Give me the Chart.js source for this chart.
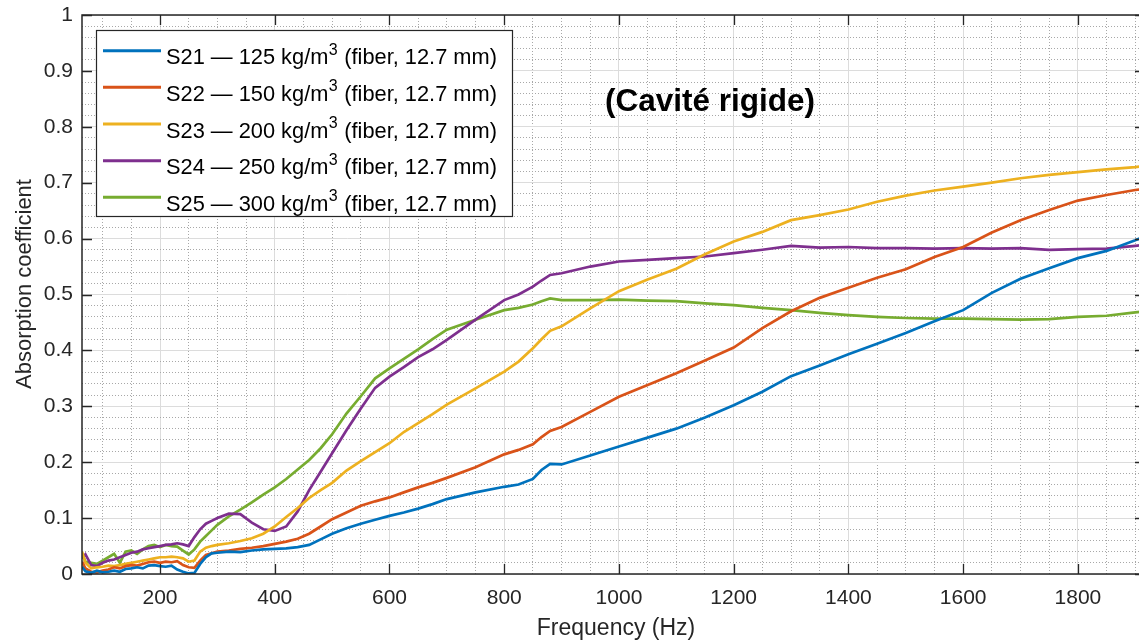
<!DOCTYPE html>
<html>
<head>
<meta charset="utf-8">
<script src="https://cdn.jsdelivr.net/npm/chart.js@4/dist/chart.umd.min.js"></script>
<style>
  html, body { margin: 0; padding: 0; background: #fff; overflow: hidden; }
  #wrap { position: relative; width: 1146px; height: 644px; }
</style>
</head>
<body>
<div id="wrap"><canvas id="absChart"></canvas></div>
<script>
// frequencies (Hz) shared by all five measurements
const freqHz = [64, 70, 80, 90, 100, 110, 120, 130, 140, 150, 160, 170, 180, 190, 200, 210, 220, 230, 240, 250,
  260, 270, 280, 290, 300, 320, 340, 360, 380, 400, 420, 440, 460, 480, 500, 525, 550, 575, 600, 625,
  650, 675, 700, 750, 800, 825, 850, 865, 880, 900, 950, 1000, 1050, 1100, 1150, 1200, 1250, 1300, 1350, 1400,
  1450, 1500, 1550, 1600, 1650, 1700, 1750, 1800, 1850, 1900, 1917];

const s21 = [0.013, 0.005, 0.002, 0.006, 0.003, 0.004, 0.006, 0.004, 0.009, 0.010, 0.012, 0.010, 0.015, 0.016, 0.014, 0.013, 0.015, 0.008, 0.004, 0.001,
  0.002, 0.018, 0.030, 0.037, 0.038, 0.040, 0.039, 0.042, 0.044, 0.045, 0.046, 0.048, 0.052, 0.062, 0.072, 0.082, 0.090, 0.097, 0.104, 0.110,
  0.117, 0.125, 0.134, 0.146, 0.156, 0.160, 0.170, 0.186, 0.197, 0.196, 0.212, 0.228, 0.244, 0.260, 0.280, 0.302, 0.326, 0.354, 0.373, 0.393,
  0.412, 0.431, 0.452, 0.472, 0.503, 0.528, 0.547, 0.565, 0.578, 0.597, 0.604];

const s22 = [0.022, 0.010, 0.004, 0.003, 0.006, 0.008, 0.012, 0.010, 0.014, 0.016, 0.015, 0.018, 0.021, 0.022, 0.020, 0.022, 0.021, 0.023, 0.016, 0.012,
  0.011, 0.024, 0.034, 0.037, 0.040, 0.042, 0.045, 0.047, 0.050, 0.054, 0.058, 0.063, 0.072, 0.085, 0.098, 0.110, 0.122, 0.130, 0.137, 0.146,
  0.155, 0.163, 0.172, 0.191, 0.214, 0.222, 0.232, 0.245, 0.256, 0.263, 0.290, 0.317, 0.338, 0.359, 0.382, 0.405, 0.440, 0.470, 0.494, 0.512,
  0.530, 0.545, 0.567, 0.585, 0.611, 0.633, 0.651, 0.668, 0.678, 0.687, 0.689];

const s23 = [0.040, 0.020, 0.010, 0.012, 0.013, 0.015, 0.014, 0.016, 0.018, 0.020, 0.022, 0.024, 0.026, 0.028, 0.030, 0.030, 0.031, 0.030, 0.028, 0.022,
  0.024, 0.040, 0.047, 0.050, 0.052, 0.055, 0.059, 0.064, 0.072, 0.085, 0.102, 0.118, 0.136, 0.150, 0.163, 0.185, 0.202, 0.218, 0.234, 0.254,
  0.270, 0.286, 0.303, 0.332, 0.362, 0.380, 0.404, 0.420, 0.435, 0.443, 0.475, 0.506, 0.527, 0.546, 0.572, 0.595, 0.612, 0.633, 0.642, 0.652,
  0.666, 0.677, 0.686, 0.693, 0.700, 0.708, 0.714, 0.719, 0.724, 0.728, 0.730];

const s24 = [0.028, 0.035, 0.016, 0.014, 0.020, 0.024, 0.026, 0.030, 0.034, 0.038, 0.040, 0.044, 0.046, 0.048, 0.050, 0.052, 0.053, 0.055, 0.053, 0.050,
  0.066, 0.080, 0.090, 0.095, 0.100, 0.108, 0.107, 0.092, 0.080, 0.077, 0.085, 0.112, 0.150, 0.183, 0.216, 0.257, 0.296, 0.333, 0.353, 0.370,
  0.388, 0.402, 0.419, 0.455, 0.490, 0.500, 0.514, 0.525, 0.535, 0.538, 0.550, 0.559, 0.562, 0.565, 0.568, 0.574, 0.580, 0.587, 0.584, 0.585,
  0.583, 0.583, 0.582, 0.583, 0.582, 0.583, 0.580, 0.581, 0.582, 0.587, 0.589];

const s25 = [0.037, 0.022, 0.020, 0.018, 0.024, 0.030, 0.036, 0.020, 0.040, 0.042, 0.036, 0.044, 0.050, 0.052, 0.048, 0.052, 0.050, 0.049, 0.042, 0.035,
  0.044, 0.058, 0.068, 0.078, 0.088, 0.103, 0.115, 0.128, 0.142, 0.155, 0.170, 0.187, 0.204, 0.225, 0.250, 0.287, 0.318, 0.350, 0.368, 0.385,
  0.402, 0.420, 0.437, 0.455, 0.472, 0.476, 0.482, 0.488, 0.493, 0.490, 0.490, 0.491, 0.489, 0.488, 0.484, 0.481, 0.476, 0.472, 0.467, 0.463,
  0.460, 0.458, 0.457, 0.457, 0.456, 0.455, 0.456, 0.460, 0.462, 0.468, 0.470];

const seriesLabels = [
  'S21 — 125 kg/m³ (fiber, 12.7 mm)',
  'S22 — 150 kg/m³ (fiber, 12.7 mm)',
  'S23 — 200 kg/m³ (fiber, 12.7 mm)',
  'S24 — 250 kg/m³ (fiber, 12.7 mm)',
  'S25 — 300 kg/m³ (fiber, 12.7 mm)'
];
const seriesColors = ['#0072BD', '#D95319', '#EDB120', '#7E2F8E', '#77AC30'];

const xMajorTicks = [200, 400, 600, 800, 1000, 1200, 1400, 1600, 1800];
const yMajorTicks = [0, 0.1, 0.2, 0.3, 0.4, 0.5, 0.6, 0.7, 0.8, 0.9, 1];
const xMinorStep = 50;
const yMinorStep = 0.02;

const chartTitle = '(Cavité rigide)';
const xTitle = 'Frequency (Hz)';
const yTitle = 'Absorption coefficient';

const FONT = '"Liberation Sans", Arial, Helvetica, sans-serif';
const INK = '#262626';

const allSeries = [s21, s22, s23, s24, s25];

function isMajorX(v) { return Math.round(v) % 200 === 0; }
function isMajorY(v) { return Math.round(v * 100) % 10 === 0; }

// box, inward ticks, titles and legend, drawn the MATLAB way
const matlabAxes = {
  id: 'matlabAxes',
  afterDraw(chart) {
    const ctx = chart.ctx;
    const a = chart.chartArea;
    const xs = chart.scales.x, ys = chart.scales.y;
    ctx.save();

    ctx.strokeStyle = INK;
    ctx.lineWidth = 1.5;
    ctx.strokeRect(a.left, a.top, a.right - a.left, a.bottom - a.top);

    ctx.lineWidth = 1.3;
    ctx.beginPath();
    xMajorTicks.forEach(v => {
      const px = Math.round(xs.getPixelForValue(v)) + 0.5;
      ctx.moveTo(px, a.bottom); ctx.lineTo(px, a.bottom - 10);
      ctx.moveTo(px, a.top); ctx.lineTo(px, a.top + 10);
    });
    yMajorTicks.forEach(v => {
      const py = Math.round(ys.getPixelForValue(v)) + 0.5;
      ctx.moveTo(a.left, py); ctx.lineTo(a.left + 10, py);
      ctx.moveTo(a.right, py); ctx.lineTo(a.right - 10, py);
    });
    ctx.stroke();

    // axis titles
    ctx.fillStyle = INK;
    ctx.textAlign = 'center';
    ctx.textBaseline = 'middle';
    ctx.font = '23px ' + FONT;
    ctx.fillText(xTitle, 616, 629);
    ctx.save();
    ctx.translate(25, 284);
    ctx.rotate(-Math.PI / 2);
    ctx.font = '22px ' + FONT;
    ctx.fillText(yTitle, 0, 0);
    ctx.restore();

    // title inside the axes
    ctx.fillStyle = '#000';
    ctx.font = 'bold 31.5px ' + FONT;
    ctx.fillText(chartTitle, 710, 102);

    // legend
    const lx = 96, ly = 30, lw = 416, lh = 186;
    ctx.fillStyle = '#fff';
    ctx.fillRect(lx, ly, lw, lh);
    ctx.strokeStyle = INK;
    ctx.lineWidth = 1.2;
    ctx.strokeRect(lx + 0.5, ly + 0.5, lw, lh);
    ctx.textAlign = 'left';
    ctx.textBaseline = 'alphabetic';
    chart.data.datasets.forEach((ds, i) => {
      const yLine = 50.7 + i * 36.65;
      ctx.strokeStyle = ds.borderColor;
      ctx.lineWidth = 3;
      ctx.beginPath();
      ctx.moveTo(103, yLine); ctx.lineTo(161, yLine);
      ctx.stroke();
      const parts = ds.label.split('³');
      const base = yLine + 13.5;
      let tx = 166;
      ctx.fillStyle = '#000';
      ctx.font = '21.8px ' + FONT;
      ctx.fillText(parts[0], tx, base);
      tx += ctx.measureText(parts[0]).width + 0.5;
      ctx.font = '16px ' + FONT;
      ctx.fillText('3', tx, base - 9.5);
      tx += ctx.measureText('3').width + 0.5;
      ctx.font = '21.8px ' + FONT;
      ctx.fillText(parts[1], tx, base);
    });
    ctx.restore();
  }
};

document.addEventListener('DOMContentLoaded', function () {
  const datasets = allSeries.map((vals, i) => ({
    label: seriesLabels[i],
    borderColor: seriesColors[i],
    backgroundColor: seriesColors[i],
    borderWidth: 2.7,
    pointRadius: 0,
    tension: 0,
    fill: false,
    data: freqHz.map((f, j) => ({ x: f, y: vals[j] }))
  }));

  new Chart(document.getElementById('absChart'), {
    type: 'line',
    data: { datasets: datasets },
    options: {
      responsive: true,
      maintainAspectRatio: false,
      animation: false,
      layout: { padding: { top: 15, right: 1, left: 0, bottom: 0 } },
      plugins: { legend: { display: false }, tooltip: { enabled: false } },
      scales: {
        x: {
          type: 'linear',
          min: 64,
          max: 1917,
          afterFit: s => { s.height = 70; s.paddingLeft = 0; s.paddingRight = 0; },
          afterBuildTicks: s => {
            const t = [];
            for (let v = 100; v <= 1900; v += xMinorStep) t.push({ value: v });
            s.ticks = t;
          },
          ticks: {
            autoSkip: false,
            maxRotation: 0,
            padding: 12,
            color: INK,
            font: { family: FONT, size: 21 },
            callback: v => xMajorTicks.includes(v) ? String(v) : ''
          },
          grid: {
            drawTicks: false,
            lineWidth: 1,
            color: c => (c.tick && isMajorX(c.tick.value)) ? '#dcdcdc' : '#a8a8a8'
          },
          border: {
            display: false,
            dash: c => (c.tick && !isMajorX(c.tick.value)) ? [1, 2] : []
          }
        },
        y: {
          min: 0,
          max: 1,
          afterFit: s => { s.width = 82; s.paddingTop = 0; s.paddingBottom = 0; },
          afterBuildTicks: s => {
            const t = [];
            for (let k = 0; k <= 50; k++) t.push({ value: k * yMinorStep });
            s.ticks = t;
          },
          ticks: {
            autoSkip: false,
            padding: 9,
            color: INK,
            font: { family: FONT, size: 21 },
            callback: v => isMajorY(v) ? String(Math.round(v * 10) / 10) : ''
          },
          grid: {
            drawTicks: false,
            lineWidth: 1,
            color: c => (c.tick && isMajorY(c.tick.value)) ? '#dcdcdc' : '#a8a8a8'
          },
          border: {
            display: false,
            dash: c => (c.tick && !isMajorY(c.tick.value)) ? [1, 2] : []
          }
        }
      }
    },
    plugins: [matlabAxes]
  });
});
</script>
</body>
</html>
